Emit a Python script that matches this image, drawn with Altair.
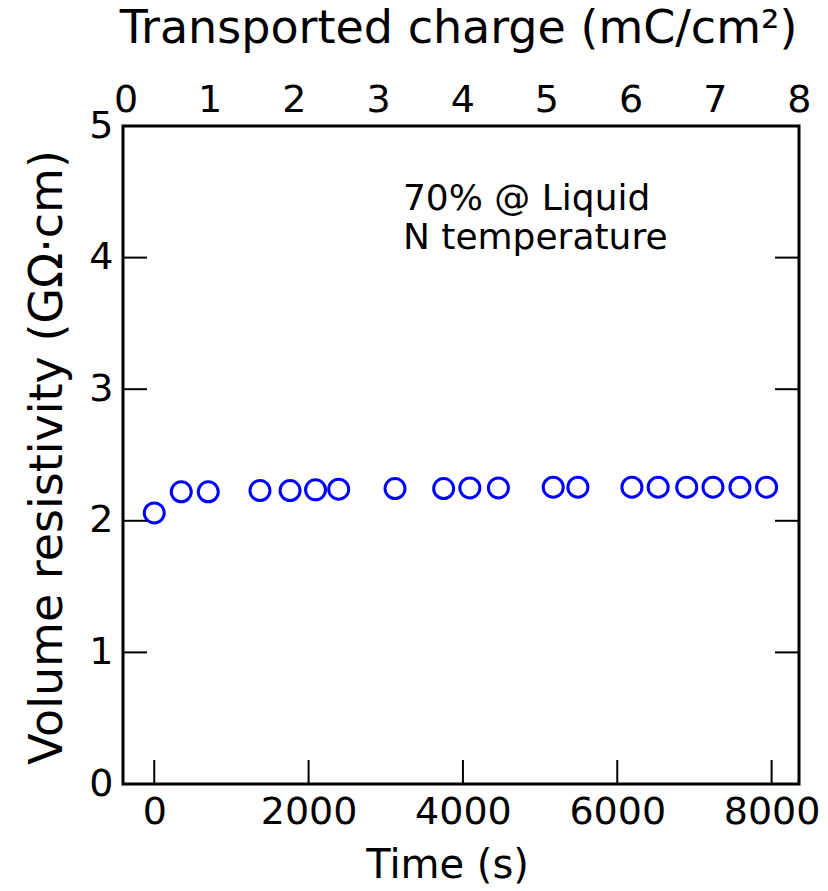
import altair as alt
import pandas as pd

# ---- data ----
time_s = [0, 350, 700, 1370, 1760, 2090, 2390, 3120, 3750, 4090, 4460,
          5170, 5490, 6190, 6530, 6900, 7240, 7590, 7935]
resistivity = [2.06, 2.22, 2.22, 2.23, 2.23, 2.235, 2.24, 2.245, 2.245, 2.25, 2.25,
               2.255, 2.255, 2.255, 2.255, 2.255, 2.255, 2.255, 2.255]

time_ticks = [0, 2000, 4000, 6000, 8000]
charge_ticks = [0, 1, 2, 3, 4, 5, 6, 7, 8]
res_ticks = [0, 1, 2, 3, 4, 5]
inner_res_ticks = [1, 2, 3, 4]

note_lines = ["70% @ Liquid", "N temperature"]
note_x = [3222, 3222]
note_y = [4.362, 4.068]

TIME_DOMAIN = [-405, 8355]
CHARGE_DOMAIN = [-0.03, 8.001]
RES_DOMAIN = [0, 5]

W, H = 676, 658
TICK_LEN = 24
FONT = "DejaVu Sans"

pts = pd.DataFrame({"t": time_s, "r": resistivity})
bticks = pd.DataFrame({"t": time_ticks})
yticks = pd.DataFrame({"r": inner_res_ticks})
notes = pd.DataFrame({"label": note_lines, "t": note_x, "r": note_y})
cticks = pd.DataFrame({"c": charge_ticks})

xscale = alt.Scale(domain=TIME_DOMAIN, nice=False, zero=False)
yscale = alt.Scale(domain=RES_DOMAIN, nice=False)

x_axis = alt.Axis(
    values=time_ticks, title="Time (s)", orient="bottom", format="d",
    labelFontSize=38, labelFont=FONT, labelColor="black", labelPadding=9,
    labelOverlap=False, labelFlush=False,
    titleFontSize=40, titleFont=FONT, titleFontWeight="normal", titleColor="black",
    titleX=324, titleY=93, titleBaseline="alphabetic", titleAlign="center",
    domain=False, ticks=False, tickSize=0, grid=False)

y_axis = alt.Axis(
    values=res_ticks, title="Volume resistivity (GΩ·cm)", orient="left", format="d",
    labelFontSize=38, labelFont=FONT, labelColor="black", labelPadding=10,
    labelOverlap=False, labelFlush=False, labelBaseline="middle",
    titleFontSize=46, titleFont=FONT, titleFontWeight="normal", titleColor="black",
    titleX=-76, titleY=331, titleAngle=270, titleBaseline="middle", titleAlign="center",
    domain=False, ticks=False, tickSize=0, grid=False)

X = alt.X("t:Q", scale=xscale, axis=x_axis)
Y = alt.Y("r:Q", scale=yscale, axis=y_axis)

points = alt.Chart(pts).mark_point(
    shape="circle", filled=False, size=400, strokeWidth=3, color="#0000ff", opacity=1
).encode(x=X, y=Y)

bottom_ticks = alt.Chart(bticks).mark_rule(color="black", strokeWidth=2).encode(
    x=X,
    y=alt.value(H),
    y2=alt.value(H - TICK_LEN),
)

left_ticks = alt.Chart(yticks).mark_rule(color="black", strokeWidth=2).encode(
    y=Y,
    x=alt.value(0),
    x2=alt.value(TICK_LEN),
)

right_ticks = alt.Chart(yticks).mark_rule(color="black", strokeWidth=2).encode(
    y=Y,
    x=alt.value(W - TICK_LEN),
    x2=alt.value(W),
)

note = alt.Chart(notes).mark_text(
    align="left", baseline="alphabetic", fontSize=36, font=FONT, color="black"
).encode(x=X, y=Y, text="label:N")

main = alt.layer(points, bottom_ticks, left_ticks, right_ticks, note)

top = alt.Chart(cticks).mark_point(opacity=0).encode(
    x=alt.X("c:Q", scale=alt.Scale(domain=CHARGE_DOMAIN, nice=False, zero=False),
            axis=alt.Axis(
                values=charge_ticks, title="Transported charge (mC/cm²)", orient="top",
                format="d",
                labelFontSize=38, labelFont=FONT, labelColor="black", labelPadding=7,
                labelOverlap=False, labelFlush=False,
                titleFontSize=46, titleFont=FONT, titleFontWeight="normal", titleColor="black",
                titleX=335, titleY=-84, titleBaseline="alphabetic", titleAlign="center",
                domain=False, ticks=False, tickSize=0, grid=False)),
    y=alt.Y("c:Q", scale=alt.Scale(domain=[0, 100]), axis=None),
)

chart = alt.layer(main, top).resolve_scale(x="independent", y="independent").properties(
    width=W, height=H,
    padding={"left": 123, "top": 126, "right": 29, "bottom": 107},
    autosize=alt.AutoSizeParams(type="none"),
    background="white",
).configure_view(stroke="black", strokeWidth=3)

chart.save("out.html", embed_options={"renderer": "svg", "actions": False})
